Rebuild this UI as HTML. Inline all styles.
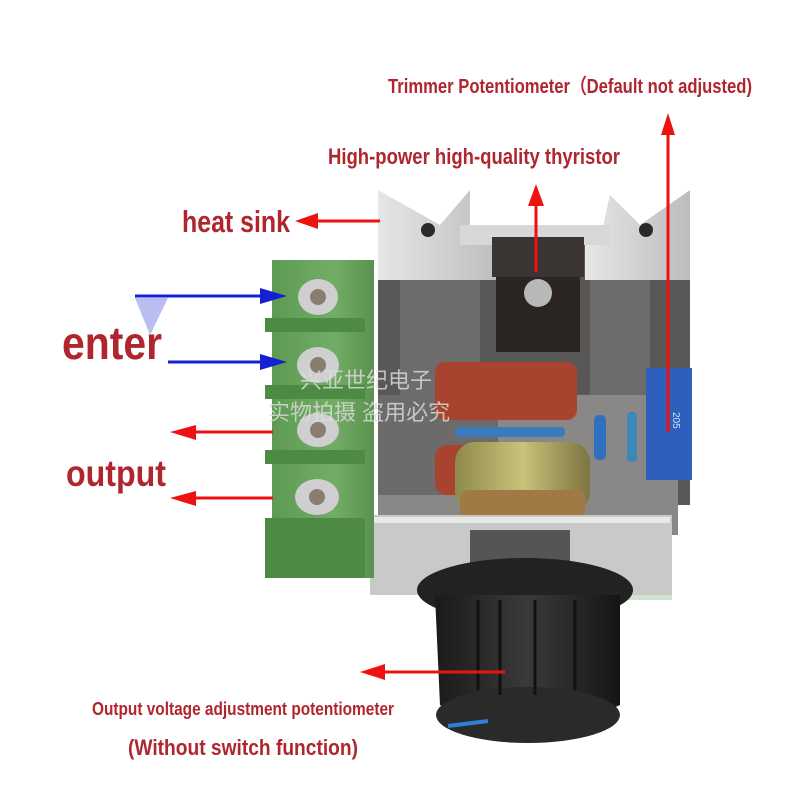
<!DOCTYPE html>
<html><head><meta charset="utf-8"><style>
html,body{margin:0;padding:0;background:#fff;}
svg{display:block}
text{font-family:"Liberation Sans",sans-serif;font-weight:bold;fill:#b0262e;}
</style></head><body>
<svg width="800" height="800" viewBox="0 0 800 800" xmlns="http://www.w3.org/2000/svg">
<defs>
<linearGradient id="fin" x1="0" x2="1"><stop offset="0" stop-color="#e6e6e6"/><stop offset="1" stop-color="#bdbdbd"/></linearGradient>
<linearGradient id="pot" x1="0" x2="1"><stop offset="0" stop-color="#8e8a4a"/><stop offset="0.5" stop-color="#c9c27a"/><stop offset="1" stop-color="#7d7440"/></linearGradient>
<linearGradient id="knob" x1="0" x2="1"><stop offset="0" stop-color="#1a1a1a"/><stop offset="0.5" stop-color="#3a3a3a"/><stop offset="1" stop-color="#151515"/></linearGradient>
<linearGradient id="green" x1="0" x2="1"><stop offset="0" stop-color="#5d9a52"/><stop offset="0.6" stop-color="#72ad66"/><stop offset="1" stop-color="#5a914f"/></linearGradient>
</defs>
<rect width="800" height="800" fill="#fff"/>
<rect x="600" y="420" width="72" height="180" fill="#cfe3d0"/>
<rect x="378" y="235" width="312" height="270" fill="#5a5856"/>
<rect x="400" y="270" width="80" height="230" fill="#6e6c6a"/>
<rect x="590" y="270" width="60" height="200" fill="#6e6c6a"/>
<polygon points="378,190 440,225 470,190 470,240 500,240 500,280 378,280" fill="url(#fin)"/>
<polygon points="690,190 640,225 610,195 600,240 585,240 585,280 690,280" fill="url(#fin)"/>
<rect x="460" y="225" width="150" height="20" fill="#d8d8d8"/>
<circle cx="428" cy="230" r="7" fill="#2a2a2a"/><circle cx="646" cy="230" r="7" fill="#2a2a2a"/>
<rect x="492" y="237" width="92" height="40" fill="#3a3432"/>
<rect x="496" y="277" width="84" height="75" fill="#2a2522"/>
<circle cx="538" cy="293" r="14" fill="#b8b8b8"/>
<rect x="378" y="395" width="300" height="140" fill="#8a8886"/>
<rect x="378" y="395" width="120" height="100" fill="#6d6b69"/>
<rect x="435" y="362" width="142" height="58" rx="10" fill="#a84330"/>
<rect x="435" y="445" width="40" height="50" rx="12" fill="#a84330"/>
<rect x="455" y="427" width="110" height="10" rx="4" fill="#3b7bbd"/>
<rect x="594" y="415" width="12" height="45" rx="5" fill="#2f6fc0"/>
<rect x="627" y="412" width="10" height="50" rx="4" fill="#3a89b8"/>
<rect x="646" y="368" width="46" height="112" fill="#2e5fbd"/>
<text transform="translate(673,412) rotate(90)" style="font-size:10px;fill:#cfe0ff;font-weight:normal">205</text>
<rect x="455" y="442" width="135" height="70" rx="20" fill="url(#pot)"/>
<rect x="460" y="490" width="125" height="28" rx="8" fill="#a07a45"/>
<rect x="370" y="515" width="302" height="80" fill="#c9c9c9"/>
<rect x="372" y="517" width="298" height="6" fill="#e8e8e8"/>
<rect x="272" y="260" width="102" height="318" fill="url(#green)"/>
<g fill="#4d8a44">
<rect x="265" y="318" width="100" height="14"/><rect x="265" y="385" width="100" height="14"/><rect x="265" y="450" width="100" height="14"/><rect x="265" y="518" width="100" height="60"/>
</g>
<g fill="#cfcfcf">
<ellipse cx="318" cy="297" rx="20" ry="18"/><ellipse cx="318" cy="365" rx="21" ry="18"/><ellipse cx="318" cy="430" rx="21" ry="17"/><ellipse cx="317" cy="497" rx="22" ry="18"/>
</g>
<g fill="#8a7d70">
<circle cx="318" cy="297" r="8"/><circle cx="318" cy="365" r="8"/><circle cx="318" cy="430" r="8"/><circle cx="317" cy="497" r="8"/>
</g>
<text x="300" y="388" style="font-size:22px;font-weight:normal;fill:#ddd;font-family:'Liberation Sans','Noto Sans CJK SC',sans-serif;opacity:.8">兴亚世纪电子</text>
<text x="268" y="420" style="font-size:22px;font-weight:normal;fill:#ddd;font-family:'Liberation Sans','Noto Sans CJK SC',sans-serif;opacity:.8">实物拍摄 盗用必究</text>
<rect x="470" y="530" width="100" height="40" fill="#555"/>
<ellipse cx="525" cy="590" rx="108" ry="32" fill="#222"/>
<path d="M435,595 L620,595 L620,705 Q525,750 440,705 Z" fill="url(#knob)"/>
<ellipse cx="528" cy="715" rx="92" ry="28" fill="#2a2a2a"/>
<g stroke="#111" stroke-width="3"><line x1="478" y1="600" x2="478" y2="690"/><line x1="500" y1="600" x2="500" y2="695"/><line x1="535" y1="600" x2="535" y2="695"/><line x1="575" y1="600" x2="575" y2="690"/></g>
<line x1="448" y1="726" x2="488" y2="721" stroke="#2e7fd6" stroke-width="4"/>
<g stroke="#e11" stroke-width="3" fill="none">
<line x1="380" y1="221" x2="310" y2="221"/>
<line x1="536" y1="272" x2="536" y2="200"/>
<line x1="668" y1="432" x2="668" y2="126"/>
<line x1="273" y1="432" x2="188" y2="432"/>
<line x1="273" y1="498" x2="188" y2="498"/>
<line x1="505" y1="672" x2="378" y2="672"/>
</g>
<g fill="#e11">
<polygon points="295,221 318,213 318,229"/>
<polygon points="536,184 528,206 544,206"/>
<polygon points="668,113 661,135 675,135"/>
<polygon points="170,432 196,425 196,440"/>
<polygon points="170,498 196,491 196,506"/>
<polygon points="360,672 385,664 385,680"/>
</g>
<g stroke="#1520d0" stroke-width="3"><line x1="135" y1="296" x2="265" y2="296"/><line x1="168" y1="362" x2="265" y2="362"/></g>
<g fill="#1520d0"><polygon points="287,296 260,288 260,304"/><polygon points="287,362 260,354 260,370"/></g>
<polygon points="135,298 168,298 150,335" fill="#9aa2e8" opacity=".7"/>
<text x="388" y="93" textLength="364" lengthAdjust="spacingAndGlyphs" style="font-size:20px">Trimmer Potentiometer（Default not adjusted)</text>
<text x="328" y="164" textLength="292" lengthAdjust="spacingAndGlyphs" style="font-size:22px">High-power high-quality thyristor</text>
<text x="182" y="232" textLength="108" lengthAdjust="spacingAndGlyphs" style="font-size:31px">heat sink</text>
<text x="62" y="359" textLength="100" lengthAdjust="spacingAndGlyphs" style="font-size:46px">enter</text>
<text x="66" y="486" textLength="100" lengthAdjust="spacingAndGlyphs" style="font-size:37px">output</text>
<text x="92" y="715" textLength="302" lengthAdjust="spacingAndGlyphs" style="font-size:18px">Output voltage adjustment potentiometer</text>
<text x="128" y="755" textLength="230" lengthAdjust="spacingAndGlyphs" style="font-size:22px">(Without switch function)</text>
</svg>
</body></html>
